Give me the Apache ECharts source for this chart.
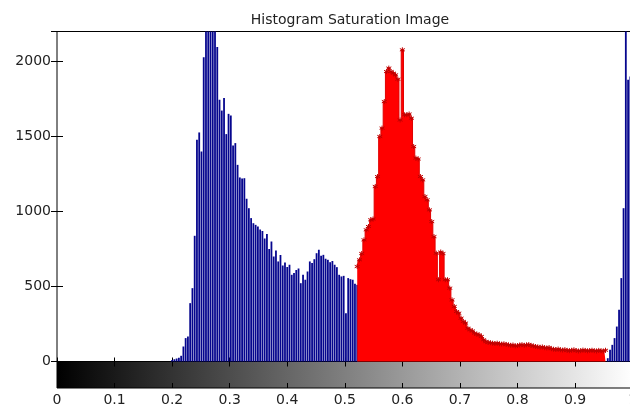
<!DOCTYPE html>
<html>
<head>
<meta charset="utf-8">
<script src="https://cdn.jsdelivr.net/npm/echarts@6/dist/echarts.min.js"></script>
<style>
html,body{margin:0;padding:0;background:#fff;}
#chart{width:630px;height:409px;}
</style>
</head>
<body>
<div id="chart"></div>
<script>
// Histogram of a saturation image: 256 bins over [0,1]
var binCount = 256;
var titleText = 'Histogram Saturation Image';
var xTicks = [0, 0.1, 0.2, 0.3, 0.4, 0.5, 0.6, 0.7, 0.8, 0.9, 1];
var yTicks = [0, 500, 1000, 1500, 2000];

// blue stems, low part (first bin index 51)
var blueLowStart = 51;
var blueLow = [10, 15, 20, 25, 38, 100, 156, 167, 389, 489,
  838, 1478, 1527, 1400, 2029, 2400, 2600, 2700, 2500, 2250,
  2096, 1745, 1673, 1756, 1516, 1651, 1640, 1440, 1456, 1311,
  1227, 1220, 1222, 1085, 1022, 956, 922, 911, 900, 880,
  870, 820, 850, 750, 800, 700, 740, 667, 710, 640,
  660, 630, 645, 578, 590, 610, 620, 522, 578, 545,
  600, 667, 656, 682, 722, 745, 705, 711, 685, 678,
  662, 670, 645, 629, 578, 567, 571, 322, 556, 549,
  545, 518, 511];

// red highlighted part (first bin index 133)
var redStart = 133;
var redCounts = [633, 678, 720, 811, 878, 900, 945, 950, 1167, 1233,
  1500, 1556, 1733, 1933, 1956, 1933, 1922, 1911, 1882, 1610,
  2078, 1645, 1645, 1650, 1622, 1433, 1356, 1350, 1233, 1211,
  1100, 1078, 1011, 933, 833, 722, 545, 730, 720, 545,
  545, 489, 411, 367, 333, 322, 289, 267, 256, 222,
  211, 204, 189, 182, 178, 167, 145, 133,
  127, 125, 122, 120, 122, 118, 116, 118, 114,
  111, 108, 110, 104, 106,
  110, 112, 108, 111, 113, 107, 104,
  100, 98, 95, 97, 92, 90, 93,
  85, 82, 80, 83, 78, 76, 79, 74, 72, 75, 78, 73, 70, 72, 76, 74, 71, 73, 75, 72, 70, 74, 72, 69, 75];

// blue stems, high part (first bin index 244)
var blueHighStart = 244;
var blueHigh = [22, 78, 111, 156, 233, 345, 556, 1022, 2500, 1878, 1900, 3000];

function toPoints(start, arr) {
  return arr.map(function (v, i) { return [(start + i) / (binCount - 1), v]; });
}
var blueData = toPoints(blueLowStart, blueLow).concat(toPoints(blueHighStart, blueHigh));
var redData = toPoints(redStart, redCounts);

var FONT = 'DejaVu Sans';
var TXT = '#222';
var plotLeft = 57, plotW = 575.6, plotTop = 31.5, plotH = 330, barH = 26.5;

var chart = echarts.init(document.getElementById('chart'), null, {renderer: 'canvas'});
chart.setOption({
  animation: false,
  backgroundColor: '#fff',
  title: {
    text: titleText,
    left: 345, top: 8, textAlign: 'center',
    textStyle: {fontFamily: FONT, fontSize: 14, fontWeight: 'normal', color: TXT}
  },
  grid: [
    {left: plotLeft, width: plotW, top: plotTop, height: plotH, outerBoundsMode: 'none', containLabel: false,
     show: true, backgroundColor: '#fff', borderColor: '#000', borderWidth: 1},
    {left: plotLeft, width: plotW, top: plotTop + plotH, height: barH, outerBoundsMode: 'none', containLabel: false,
     show: true, borderColor: '#000', borderWidth: 1,
     backgroundColor: {type: 'linear', x: 0, y: 0, x2: 1, y2: 0,
       colorStops: [{offset: 0, color: '#000000'}, {offset: 1, color: '#ffffff'}]}}
  ],
  xAxis: [
    {gridIndex: 0, type: 'value', min: xTicks[0], max: xTicks[xTicks.length - 1], interval: 0.1,
     position: 'bottom', axisLine: {show: false}, axisLabel: {show: false},
     axisTick: {show: true, inside: true, length: 4, lineStyle: {color: '#000'}}, splitLine: {show: false}},
    {gridIndex: 0, type: 'value', min: 0, max: 1, interval: 0.1,
     position: 'top', axisLine: {show: false}, axisLabel: {show: false},
     axisTick: {show: true, inside: true, length: 4, lineStyle: {color: '#000'}}, splitLine: {show: false}},
    {gridIndex: 1, type: 'value', min: 0, max: 1, interval: 0.1,
     position: 'bottom', axisLine: {show: false},
     axisLabel: {show: true, margin: 5, fontFamily: FONT, fontSize: 14, color: TXT,
       formatter: function (v) { return String(Math.round(v * 10) / 10); }},
     axisTick: {show: true, inside: true, length: 5, lineStyle: {color: '#000'}}, splitLine: {show: false}},
    {gridIndex: 1, type: 'value', min: 0, max: 1, interval: 0.1,
     position: 'top', axisLine: {show: false}, axisLabel: {show: false},
     axisTick: {show: true, inside: true, length: 5, lineStyle: {color: '#000'}}, splitLine: {show: false}}
  ],
  yAxis: [
    {gridIndex: 0, type: 'value', min: yTicks[0], max: 2200, interval: 500, position: 'left',
     axisLine: {show: false}, splitLine: {show: false},
     axisTick: {show: true, inside: true, length: 6, lineStyle: {color: '#000'}},
     axisLabel: {show: true, margin: 6, fontFamily: FONT, fontSize: 14, color: TXT, showMaxLabel: false,
       formatter: function (v) { return String(v); }}},
    {gridIndex: 0, type: 'value', min: 0, max: 2200, interval: 500, position: 'right',
     axisLine: {show: false}, splitLine: {show: false}, axisLabel: {show: false},
     axisTick: {show: true, inside: true, length: 6, lineStyle: {color: '#000'}}},
    {gridIndex: 1, type: 'value', min: 0, max: 1, show: false}
  ],
  series: [
    {type: 'bar', xAxisIndex: 0, yAxisIndex: 0, data: blueData, barWidth: 1.8,
     itemStyle: {color: '#06068e'}, clip: true, z: 2},
    {type: 'line', xAxisIndex: 0, yAxisIndex: 0, data: redData, step: 'middle',
     showAllSymbol: true, symbol: 'path://M5,0L5,10M0.7,2.5L9.3,7.5M0.7,7.5L9.3,2.5',
     symbolSize: 5, clip: true,
     itemStyle: {color: '#ff0000', borderColor: '#c00000', borderWidth: 1},
     lineStyle: {color: '#e00000', width: 1},
     areaStyle: {color: '#ff0000', opacity: 1}, z: 3}
  ]
});
</script>
</body>
</html>
